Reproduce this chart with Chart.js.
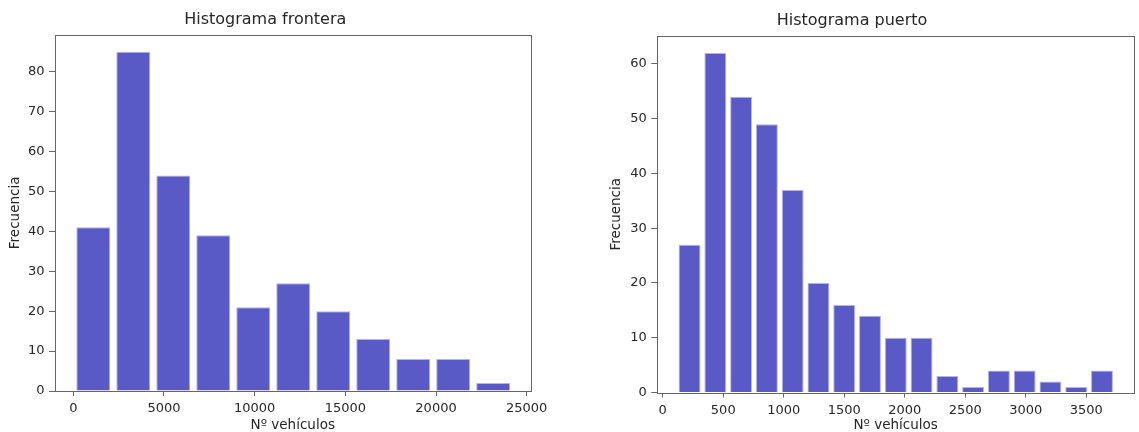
<!DOCTYPE html>
<html>
<head>
<meta charset="utf-8">
<script src="https://cdn.jsdelivr.net/npm/chart.js@4.4.1/dist/chart.umd.min.js"></script>
<style>
  html, body { margin: 0; padding: 0; background: #fff; overflow: hidden; }
  canvas { position: absolute; top: 0; }
  #frontera { left: 0; }
  #puerto { left: 570px; }
</style>
</head>
<body>
<canvas id="frontera" width="570" height="432"></canvas>
<canvas id="puerto" width="569" height="432"></canvas>
<script>
// Histograma frontera
const fronteraEdges = [0, 2205, 4410, 6615, 8820, 11025, 13230, 15435, 17640, 19845, 22050, 24255]
const fronteraCounts = [41, 85, 54, 39, 21, 27, 20, 13, 8, 8, 2]
const fronteraXTicks = [0, 5000, 10000, 15000, 20000, 25000]
const fronteraYTicks = [0, 10, 20, 30, 40, 50, 60, 70, 80]

// Histograma puerto
const puertoEdges = [115, 328, 541, 754, 967, 1180, 1393, 1606, 1819, 2032, 2245, 2458, 2671, 2884, 3097, 3310, 3523, 3736]
const puertoCounts = [27, 62, 54, 49, 37, 20, 16, 14, 10, 10, 3, 1, 4, 4, 2, 1, 4]
const puertoXTicks = [0, 500, 1000, 1500, 2000, 2500, 3000, 3500]
const puertoYTicks = [0, 10, 20, 30, 40, 50, 60]

Chart.defaults.font.family = "'DejaVu Sans', sans-serif"
Chart.defaults.color = '#262626'

// matplotlib style box around the plot area
const frame = {
  id: 'frame',
  afterDraw(chart) {
    const { ctx, chartArea: a } = chart
    ctx.save()
    ctx.strokeStyle = '#666'
    ctx.lineWidth = 1
    ctx.strokeRect(Math.round(a.left) + 0.5, Math.round(a.top) + 0.5, Math.round(a.right - a.left), Math.round(a.bottom - a.top))
    ctx.restore()
  }
}

function histogram(id, edges, counts, xTicks, yTicks, cfg) {
  const points = counts.map((c, i) => ({ x: (edges[i] + edges[i + 1]) / 2, y: c }))
  return new Chart(document.getElementById(id), {
    type: 'bar',
    data: {
      datasets: [{
        data: points,
        backgroundColor: '#5a5ac6',
        borderColor: '#b4b4e8',
        borderWidth: 1,
        barPercentage: 0.85,
        categoryPercentage: 1
      }]
    },
    plugins: [frame],
    options: {
      responsive: false,
      animation: false,
      layout: { padding: { left: 0, right: cfg.padRight, top: 0, bottom: 0 } },
      scales: {
        x: {
          type: 'linear',
          offset: false,
          min: cfg.xMin,
          max: cfg.xMax,
          afterBuildTicks: s => { s.ticks = xTicks.map(v => ({ value: v })) },
          afterFit: s => { s.height = cfg.xHeight },
          grid: { display: true, drawOnChartArea: false, drawTicks: true, tickLength: 5, offset: false, color: '#666' },
          border: { display: false },
          ticks: { autoSkip: false, maxRotation: 0, padding: 5, font: { size: 13 }, callback: v => String(v) },
          title: { display: true, text: 'Nº vehículos', font: { size: 13.5, lineHeight: 1 }, padding: { top: 0, bottom: 0 } }
        },
        y: {
          min: 0,
          max: cfg.yMax,
          afterBuildTicks: s => { s.ticks = yTicks.map(v => ({ value: v })) },
          afterFit: s => { s.width = cfg.yWidth },
          grid: { display: true, drawOnChartArea: false, drawTicks: true, tickLength: 6, color: '#666' },
          border: { display: false },
          ticks: { padding: 4.5, font: { size: 13 }, callback: v => String(v) },
          title: { display: true, text: 'Frecuencia', font: { size: 13.5 }, padding: { top: cfg.yTitlePad, bottom: 0 } }
        }
      },
      plugins: {
        legend: { display: false },
        tooltip: { enabled: false },
        title: {
          display: true,
          text: cfg.title,
          color: '#262626',
          font: { size: 16, weight: 'normal' },
          padding: cfg.titlePad
        }
      }
    }
  })
}

histogram('frontera', fronteraEdges, fronteraCounts, fronteraXTicks, fronteraYTicks, {
  title: 'Histograma frontera',
  xMin: -1010, xMax: 25210, yMax: 89.25,
  yWidth: 55, yTitlePad: 6.9, xHeight: 41, padRight: 39.5,
  titlePad: { top: 10.2, bottom: 5.3 }
})

histogram('puerto', puertoEdges, puertoCounts, puertoXTicks, puertoYTicks, {
  title: 'Histograma puerto',
  xMin: -45, xMax: 3894, yMax: 65.1,
  yWidth: 87.3, yTitlePad: 37.9, xHeight: 39.5, padRight: 5,
  titlePad: { top: 11.2, bottom: 5.6 }
})
</script>
</body>
</html>
